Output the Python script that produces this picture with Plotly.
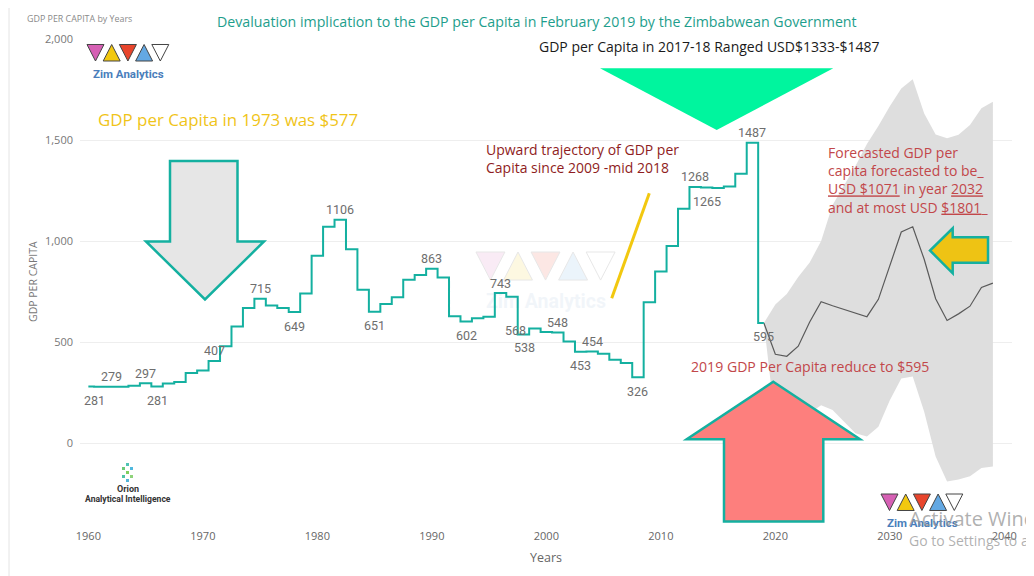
import plotly.graph_objects as go

# GDP per capita, 1960-2019 (USD)
years = list(range(1960, 2020))
gdp = [281, 280, 279, 279, 284, 297, 281, 295, 303, 347,
       360, 407, 480, 577, 669, 715, 681, 669, 649, 741,
       927, 1071, 1106, 960, 759, 651, 689, 722, 809, 832,
       863, 820, 628, 602, 618, 626, 743, 725, 538, 568,
       550, 548, 503, 453, 454, 443, 413, 397, 326, 697,
       850, 976, 1160, 1268, 1265, 1263, 1270, 1333, 1487, 595]

# forecast 2019-2039 with confidence band
fc_years = list(range(2019, 2040))
fc_mid = [595, 440, 430, 480, 600, 700, 680, 662, 645, 626,
          712, 880, 1045, 1071, 910, 715, 607, 640, 678, 771, 792]
fc_hi = [595, 686, 738, 823, 894, 1000, 1179, 1276, 1372, 1480,
         1569, 1667, 1755, 1801, 1632, 1527, 1509, 1526, 1575, 1657, 1690]
fc_lo = [595, 100, 70, 120, 150, 188, 164, 106, 49, 33,
         82, 213, 320, 330, 156, -66, -189, -180, -164, -123, -115]

label_years = [1960, 1962, 1965, 1966, 1971, 1975, 1978, 1982, 1985, 1990, 1993,
               1996, 1998, 1999, 2001, 2003, 2004, 2008, 2013, 2014, 2018, 2019]

x_ticks = list(range(1960, 2041, 10))
y_ticks = [0, 500, 1000, 1500, 2000]

# label offsets in px (dx, dy)
label_shift = {1960: (6, -14), 1966: (0, -14), 1978: (0, -14), 1985: (0, -14),
               1993: (0, -14), 1998: (1, -13), 1999: (-19, -2), 2003: (0, -14),
               2008: (0, -14), 2014: (0, -14), 2019: (0, -14)}

# page has an 8px body margin, so the figure sits at (8, 8)
OFF = 8
W, H = 1026, 568
L, R, T, B = 72, 22, 31, 58
TEAL = "#14b0a0"


def pp(x, y):
    # page pixel -> paper
    fx, fy = x - OFF, y - OFF
    return (fx - L) / (W - L - R), (H - B - fy) / (H - T - B)


def path(pts):
    s = ""
    for i, (x, y) in enumerate(pts):
        a, b = pp(x, y)
        s += ("M" if i == 0 else "L") + f"{a:.5f},{b:.5f} "
    return s + "Z"


def note(fig, text, x, y, size, color, xanchor="center", family="Open Sans", **kw):
    a, b = pp(x, y)
    fig.add_annotation(text=text, x=a, y=b, xref="paper", yref="paper", showarrow=False,
                       xanchor=xanchor, yanchor="middle",
                       font=dict(family=family, size=size, color=color), **kw)


def add_logo(fig, x0, y0, k, alpha, text_alpha):
    s, w, step = 16.5 * k, 17 * k, 16.2 * k
    cols = ["#d660b4", "#f2c80f", "#e8452c", "#63a8e3", "#ffffff"]
    for i, c in enumerate(cols):
        left = x0 + i * step
        if i % 2 == 0:
            pts = [(left, y0), (left + w, y0), (left + w / 2, y0 + s)]
        else:
            pts = [(left, y0 + s), (left + w, y0 + s), (left + w / 2, y0)]
        fig.add_shape(type="path", path=path(pts), xref="paper", yref="paper",
                      fillcolor=c, line=dict(color="#444", width=1), opacity=alpha, layer="above")
    a, b = pp(x0 + 41 * k, y0 + 29 * k)
    fig.add_annotation(text="<b>Zim Analytics</b>", x=a, y=b, xref="paper", yref="paper",
                       showarrow=False, opacity=text_alpha,
                       xanchor="center", yanchor="middle",
                       font=dict(family="Roboto", size=11.5 * k, color="#4a7ebb"))


fig = go.Figure()

fig.add_trace(go.Scatter(x=fc_years, y=fc_lo, mode="lines", line=dict(width=0),
                         showlegend=False, hoverinfo="skip"))
fig.add_trace(go.Scatter(x=fc_years, y=fc_hi, mode="lines", line=dict(width=0),
                         fill="tonexty", fillcolor="#dedede", showlegend=False))
fig.add_trace(go.Scatter(x=fc_years, y=fc_mid, mode="lines",
                         line=dict(color="#5a5a5a", width=1.2), showlegend=False))
fig.add_trace(go.Scatter(x=years, y=gdp, mode="lines", line_shape="hvh",
                         line=dict(color=TEAL, width=2), showlegend=False))

for yr in label_years:
    v = gdp[years.index(yr)]
    dx, dy = label_shift.get(yr, (0, 10))
    fig.add_annotation(x=yr, y=v, text=str(v), showarrow=False, xshift=dx, yshift=dy,
                       font=dict(family="Roboto", size=12.5, color="#6e6e6e"))

# arrows and shapes
fig.add_shape(type="path", xref="paper", yref="paper", layer="above",
              path=path([(170, 161), (237.5, 161), (237.5, 241.5), (264, 241.5),
                         (205, 299.5), (146, 241.5), (170, 241.5)]),
              fillcolor="#e6e6e6", line=dict(color=TEAL, width=2.5))
fig.add_shape(type="path", xref="paper", yref="paper", layer="above",
              path=path([(988, 237.3), (952.7, 237.3), (952.7, 228.3), (930, 250.5),
                         (952.7, 273.3), (952.7, 262.7), (988, 262.7)]),
              fillcolor="#eec314", line=dict(color=TEAL, width=2.5))
fig.add_shape(type="path", xref="paper", yref="paper", layer="above",
              path=path([(773.3, 381.7), (860, 439.3), (823.3, 439.3), (823.3, 521.5),
                         (724, 521.5), (724, 439.3), (686.7, 439.3)]),
              fillcolor="#fd7f7d", line=dict(color=TEAL, width=2.5))
fig.add_shape(type="path", xref="paper", yref="paper", layer="above",
              path=path([(600, 68.3), (833.3, 68.3), (716.7, 130)]),
              fillcolor="#00f59e", line=dict(width=0))
x1, y1 = pp(611.7, 298.3)
x2, y2 = pp(649.3, 193.3)
fig.add_shape(type="line", xref="paper", yref="paper", x0=x1, y0=y1, x1=x2, y1=y2,
              line=dict(color="#f2c80f", width=3), layer="above")

# frame line on the left
a, _ = pp(9, 0)
fig.add_shape(type="line", xref="paper", yref="paper", x0=a, x1=a,
              y0=pp(0, 576)[1], y1=pp(0, 8)[1], line=dict(color="#e4e4e4", width=1))

add_logo(fig, 87, 44.5, 1.0, 1.0, 1.0)
add_logo(fig, 881, 494, 1.0, 1.0, 1.0)
add_logo(fig, 476, 252, 1.7, 0.12, 0.07)

# texts
note(fig, "GDP PER CAPITA by Years", 25, 19, 8.9, "#8a8a8a", xanchor="left")
note(fig, "Devaluation implication to the GDP per Capita in February 2019 by the Zimbabwean Government",
     537, 21, 14.2, "#1e9e8c")
note(fig, "GDP per Capita in 2017-18 Ranged USD$1333-$1487", 709, 47, 14, "#1a1a1a")
note(fig, "GDP per Capita in 1973 was $577", 228, 120, 16.9, "#f0c419")
note(fig, "Upward trajectory of GDP per<br>Capita since 2009 -mid 2018", 484, 158.5, 14,
     "#8f1d22", xanchor="left", align="left")
note(fig, "Forecasted GDP per<br>capita forecasted to be_<br><u>USD $1071</u> in year <u>2032</u>"
     "<br>and at most USD <u>$1801</u>_", 826, 179.5, 14, "#c2474a", xanchor="left", align="left")
note(fig, "2019 GDP Per Capita reduce to $595", 809.5, 366, 14.1, "#c2474a")
note(fig, "GDP PER CAPITA", 33, 282, 10.5, "#777777", textangle=-90)
note(fig, "Years", 546, 557, 12.5, "#666666")

# Orion logo
for (dx, dy, c) in [(0, 0, "#4fc3b4"), (-4, 4, "#6cc979"), (4, 4, "#4fb8de"), (0, 8, "#7fcf5f"),
                    (-4, 12, "#4fc3a6"), (4, 12, "#8fd37a"), (0, 16, "#52b4d8")]:
    a, b = pp(126 + dx, 463 + dy)
    c0, d0 = pp(129 + dx, 466 + dy)
    fig.add_shape(type="rect", xref="paper", yref="paper", x0=a, x1=c0, y0=d0, y1=b,
                  fillcolor=c, line=dict(width=0))
note(fig, "<b>Orion</b>", 128, 488.5, 9, "#333333", family="Roboto")
note(fig, "<b>Analytical Intelligence</b>", 128, 498.5, 8.6, "#333333", family="Roboto")

# windows watermark
note(fig, "Activate Windows", 907, 518, 20, "rgba(150,150,150,0.75)", xanchor="left")
note(fig, "Go to Settings to activate Windows.", 907, 540, 14, "rgba(150,150,150,0.75)",
     xanchor="left")

fig.update_layout(
    width=W, height=H,
    margin=dict(l=L, r=R, t=T, b=B),
    paper_bgcolor="white", plot_bgcolor="white",
    font=dict(family="Open Sans", color="#777777"),
    showlegend=False,
    xaxis=dict(range=[1959.27, 2040.67], tickvals=x_ticks, showgrid=False, zeroline=False,
               showline=False, ticklabelstandoff=10, tickfont=dict(size=11, color="#666666")),
    yaxis=dict(range=[-370, 2000], tickvals=y_ticks, tickformat=",", showgrid=True,
               gridcolor="#eeeeee", zeroline=False, showline=False, ticklabelstandoff=6,
               tickfont=dict(size=11, color="#777777")),
)

fig.write_html("out.html")
